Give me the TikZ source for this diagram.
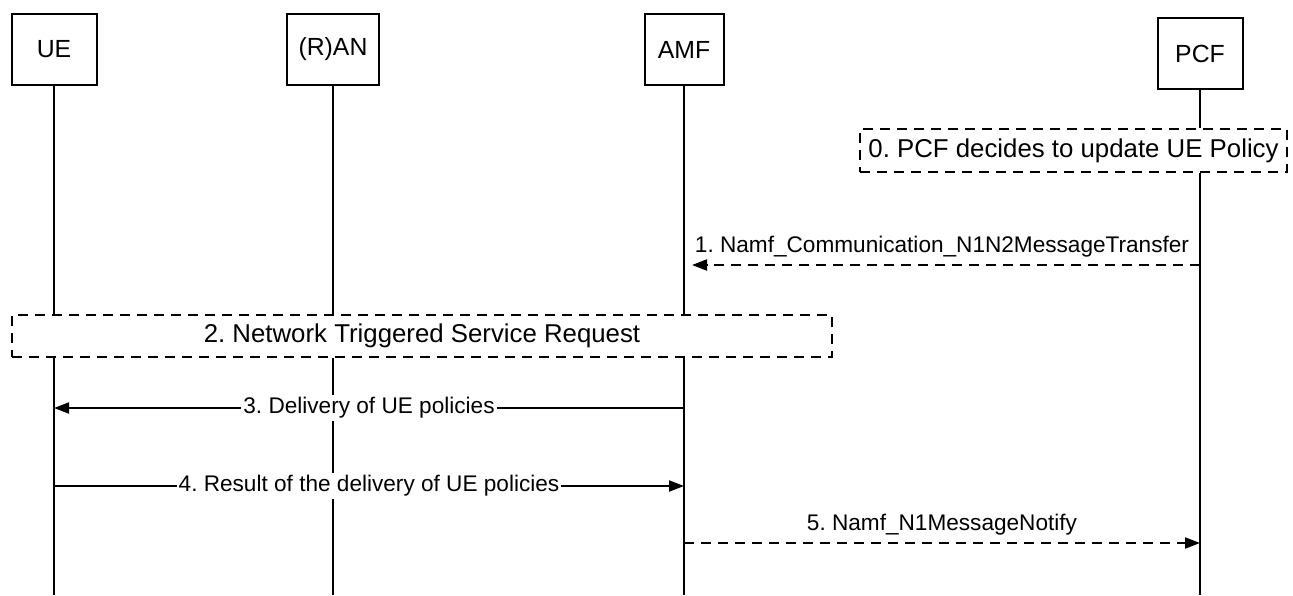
\documentclass[tikz,border=0pt]{standalone}
\usepackage{fontspec}
\setmainfont{Liberation Sans}
\usetikzlibrary{arrows.meta}
\frenchspacing

\tikzset{
  entity/.style={draw, minimum width=42.5pt, minimum height=35.5pt, inner sep=0pt,
    font=\fontsize{12.4}{14.5}\selectfont},
  phase/.style={draw, dash pattern=on 5pt off 3.5pt, inner sep=0pt,
    font=\fontsize{12.9}{15}\selectfont},
  msg/.style={-{Triangle[length=7.5pt, width=5.5pt]}},
  rpc/.style={msg, dash pattern=on 5pt off 3.5pt},
}

\begin{document}
\begin{tikzpicture}[x=0.5pt, y=-0.5pt, line width=1pt,
  font=\fontsize{11.3}{13.5}\selectfont]
\useasboundingbox (0,0) rectangle (1293,595);

% network functions
\node[entity] (ue) at (54,49.5) {UE};
\node[entity, minimum width=46pt] (ran) at (333,49.5) {(R)AN};
\node[entity, minimum width=39.5pt] (amf) at (684,49.5) {AMF};
\node[entity] (pcf) at (1200,53.5) {PCF};

% procedure boxes
\node[phase, minimum width=213.5pt, minimum height=21.5pt] (upd) at (1073.5,150.5)
{0. PCF decides to update UE Policy};
\node[phase, minimum width=410pt, minimum height=21pt] (nsr) at (422,336)
{2. Network Triggered Service Request};

\coordinate (bottom) at (0,595);

% lifelines
\foreach \nf in {ue, ran, amf} {
  \draw (\nf) -- (\nf |- nsr.north);
  \draw (\nf |- nsr.south) -- (\nf |- bottom);
}
\draw (pcf) -- (pcf |- upd.north);
\draw (pcf |- upd.south) -- (pcf |- bottom);

% messages
\coordinate (m1) at (0,265);
\coordinate (m3) at (0,408);
\coordinate (m4) at (0,486);
\coordinate (m5) at (0,543);

\draw[rpc, shorten >=4pt] (pcf |- m1) -- node[above]
{1. Namf\_Communication\_N1N2MessageTransfer} (amf |- m1) ;
\draw[msg] (amf |- m3) -- node[fill=white, inner sep=1pt]
{3. Delivery of UE policies} (ue |- m3) ;
\draw[msg] (ue |- m4) -- node[fill=white, inner sep=1pt]
{4. Result of the delivery of UE policies} (amf |- m4) ;
\draw[rpc] (amf |- m5) -- node[above]
{5. Namf\_N1MessageNotify} (pcf |- m5) ;

\end{tikzpicture}
\end{document}
